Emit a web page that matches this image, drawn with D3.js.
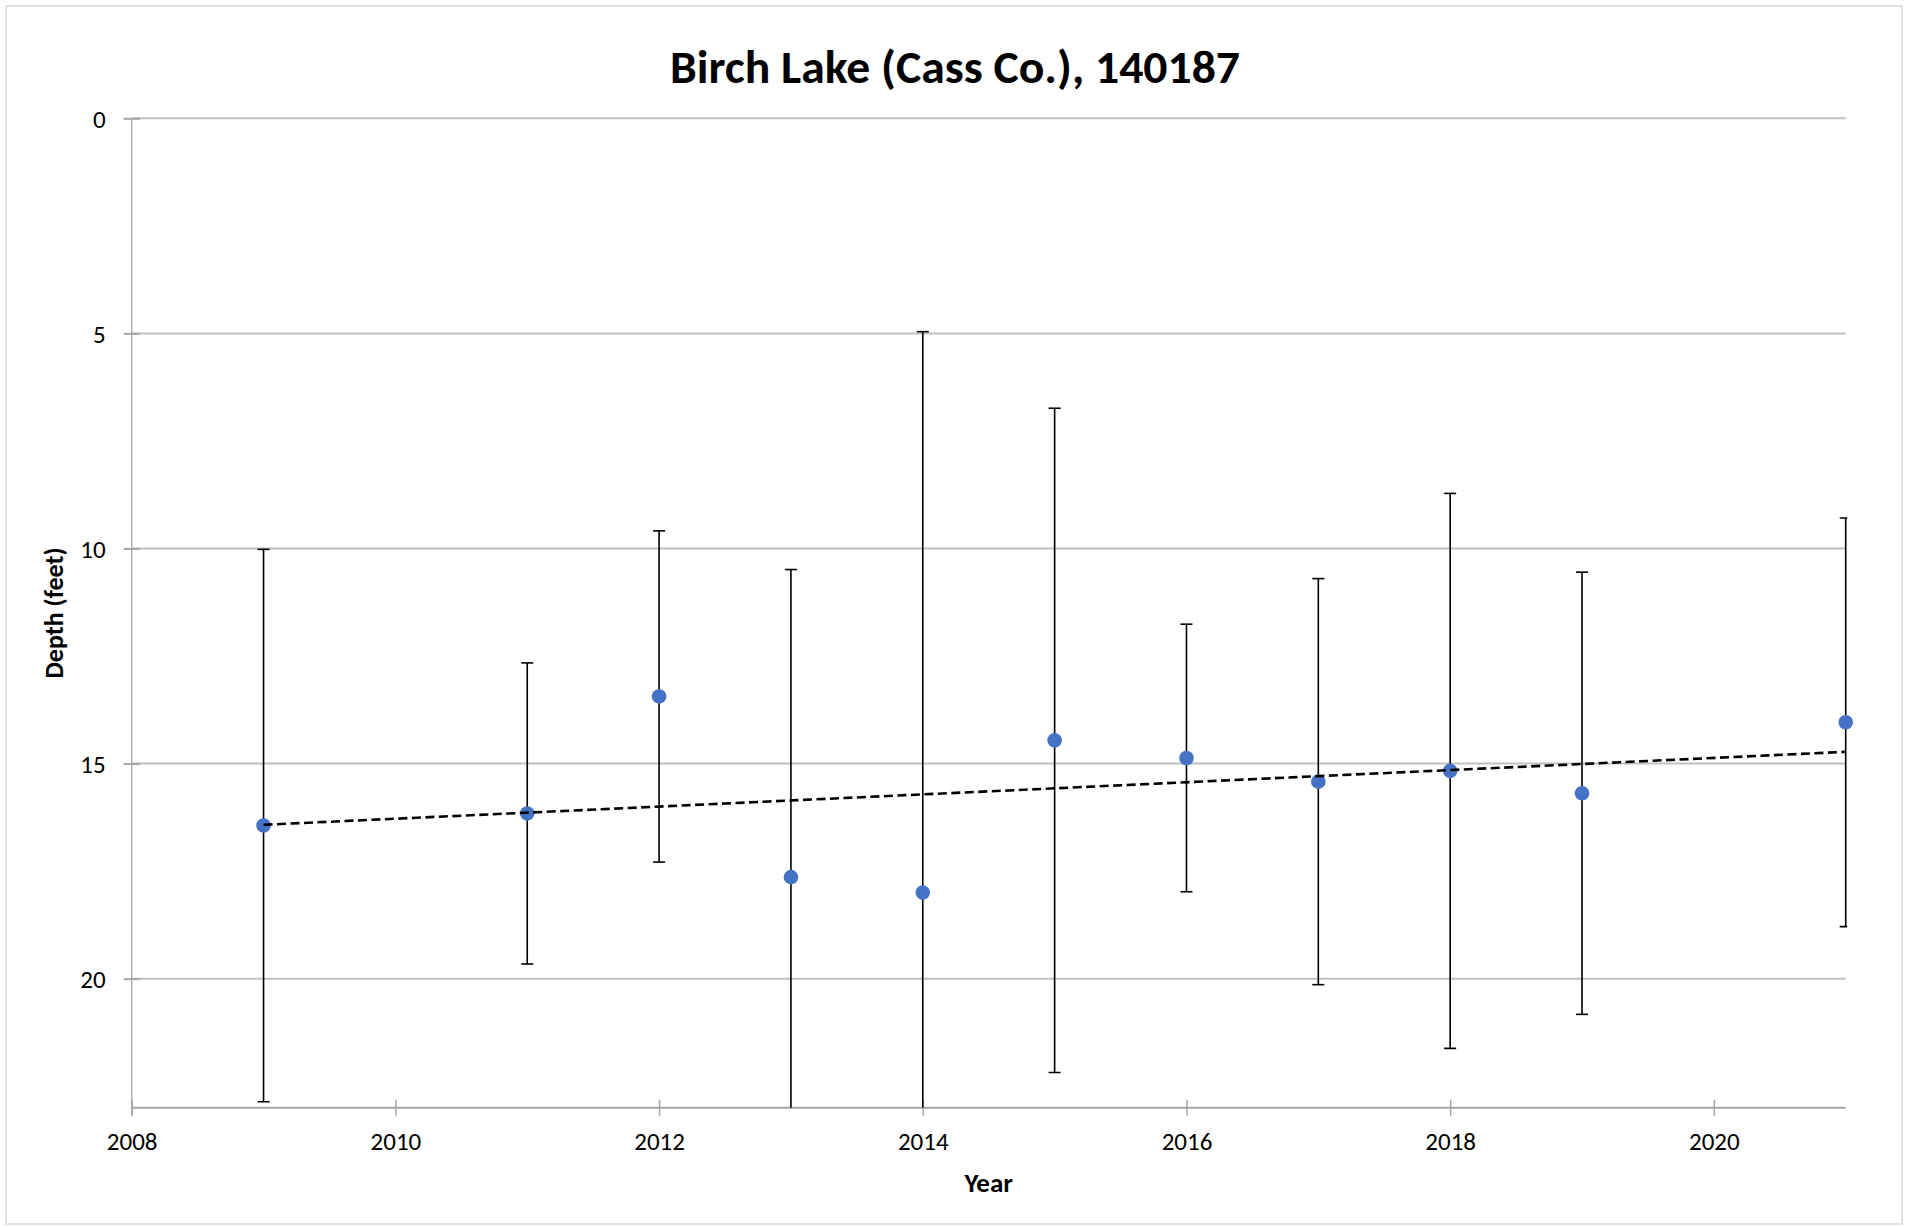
<!DOCTYPE html>
<html>
<head>
<meta charset="utf-8">
<script src="https://cdn.jsdelivr.net/npm/d3@7"></script>
<style>
  body { margin: 0; background: #fff; }
  text { font-family: Carlito, Calibri, Lato, sans-serif; fill: #000; }
</style>
</head>
<body>
<div id="chart"></div>
<script>
const title = "Birch Lake (Cass Co.), 140187"
const years = [2009, 2011, 2012, 2013, 2014, 2015, 2016, 2017, 2018, 2019, 2021]
const depths = [16.44, 16.16, 13.44, 17.64, 18.0, 14.46, 14.87, 15.42, 15.17, 15.69, 14.04]
const errors = [6.42, 3.5, 3.85, 7.15, 13.04, 7.72, 3.11, 4.72, 6.45, 5.14, 4.75]
const xTicks = [2008, 2010, 2012, 2014, 2016, 2018, 2020]
const yTicks = [0, 5, 10, 15, 20]

const width = 1910
const height = 1227
const plot = { left: 131.7, top: 118.3, right: 1845.7, bottom: 1107.7 }

const x = d3.scaleLinear().domain([2008, 2021]).range([plot.left, plot.right])
const y = d3.scaleLinear().domain([0, 23]).range([plot.top, plot.bottom])

const data = years.map((yr, i) => ({ year: yr, depth: depths[i], err: errors[i] }))

// least squares trendline, same as excel's linear trend
const mx = d3.mean(years)
const my = d3.mean(depths)
const slope =
  d3.sum(data, (d) => (d.year - mx) * (d.depth - my)) /
  d3.sum(data, (d) => (d.year - mx) ** 2)
const trend = d3.extent(years).map((yr) => ({ year: yr, depth: my + slope * (yr - mx) }))

const svg = d3
  .select("#chart")
  .append("svg")
  .attr("width", width)
  .attr("height", height)

svg
  .append("rect")
  .attr("x", 6)
  .attr("y", 6)
  .attr("width", 1896)
  .attr("height", 1218)
  .attr("fill", "#fff")
  .attr("stroke", "#d9d9d9")
  .attr("stroke-width", 1.5)

svg
  .append("defs")
  .append("clipPath")
  .attr("id", "clip")
  .append("rect")
  .attr("x", plot.left)
  .attr("y", plot.top - 2)
  .attr("width", plot.right - plot.left + 1.5)
  .attr("height", plot.bottom - plot.top + 2)

// gridlines
svg
  .append("g")
  .selectAll("line")
  .data(yTicks)
  .join("line")
  .attr("x1", plot.left)
  .attr("x2", plot.right)
  .attr("y1", (d) => y(d))
  .attr("y2", (d) => y(d))
  .attr("stroke", "#c0c0c0")
  .attr("stroke-width", 2)

// y axis
const yAxis = svg
  .append("g")
  .attr("transform", `translate(${plot.left},0)`)
  .call(d3.axisLeft(y).tickValues(yTicks).tickSize(8).tickPadding(18))
yAxis.select(".domain").remove()
yAxis.selectAll(".tick line").attr("stroke", "#a6a6a6").attr("stroke-width", 2).attr("x2", 8).attr("x1", -8)
yAxis.selectAll(".tick text").attr("font-size", 25).attr("dy", "0.36em").attr("fill", "#000")
svg
  .append("line")
  .attr("x1", plot.left)
  .attr("x2", plot.left)
  .attr("y1", plot.top)
  .attr("y2", plot.bottom + 8)
  .attr("stroke", "#a6a6a6")
  .attr("stroke-width", 1.3)

// x axis
const xAxis = svg
  .append("g")
  .attr("transform", `translate(0,${plot.bottom})`)
  .call(d3.axisBottom(x).tickValues(xTicks).tickFormat(d3.format("d")).tickSize(8).tickPadding(0))
xAxis.select(".domain").attr("stroke", "#a6a6a6").attr("stroke-width", 2).attr("d", `M${plot.left},0H${plot.right}`)
xAxis.selectAll(".tick line").attr("stroke", "#a6a6a6").attr("stroke-width", 1.5).attr("y1", -8)
xAxis.selectAll(".tick text").attr("font-size", 25).attr("dy", null).attr("y", 42.5).attr("fill", "#000")

const marks = svg.append("g").attr("clip-path", "url(#clip)")

// error bars
const bars = marks
  .selectAll("g.err")
  .data(data)
  .join("g")
  .attr("class", "err")
  .attr("stroke", "#000")
  .attr("stroke-width", 1.6)
bars
  .append("line")
  .attr("x1", (d) => x(d.year))
  .attr("x2", (d) => x(d.year))
  .attr("y1", (d) => y(d.depth - d.err))
  .attr("y2", (d) => y(d.depth + d.err))
bars
  .selectAll("line.cap")
  .data((d) => [
    { year: d.year, v: d.depth - d.err },
    { year: d.year, v: d.depth + d.err },
  ])
  .join("line")
  .attr("class", "cap")
  .attr("x1", (d) => x(d.year) - 6)
  .attr("x2", (d) => x(d.year) + 6)
  .attr("y1", (d) => y(d.v))
  .attr("y2", (d) => y(d.v))

// points
svg
  .append("g")
  .selectAll("circle")
  .data(data)
  .join("circle")
  .attr("cx", (d) => x(d.year))
  .attr("cy", (d) => y(d.depth))
  .attr("r", 7.3)
  .attr("fill", "#4472c4")

// trendline
svg
  .append("path")
  .datum(trend)
  .attr("fill", "none")
  .attr("stroke", "#000")
  .attr("stroke-width", 2.6)
  .attr("stroke-dasharray", "9,4.5")
  .attr(
    "d",
    d3
      .line()
      .x((d) => x(d.year))
      .y((d) => y(d.depth))
  )

// titles
svg
  .append("text")
  .attr("x", width / 2)
  .attr("y", 83)
  .attr("text-anchor", "middle")
  .attr("font-size", 46)
  .attr("font-weight", "bold")
  .attr("textLength", 570)
  .attr("lengthAdjust", "spacingAndGlyphs")
  .text(title)

svg
  .append("text")
  .attr("x", (plot.left + plot.right) / 2)
  .attr("y", 1192)
  .attr("text-anchor", "middle")
  .attr("font-size", 27)
  .attr("font-weight", "bold")
  .text("Year")

svg
  .append("text")
  .attr("transform", `translate(63,${(plot.top + plot.bottom) / 2}) rotate(-90)`)
  .attr("text-anchor", "middle")
  .attr("font-size", 26)
  .attr("font-weight", "bold")
  .text("Depth (feet)")
</script>
</body>
</html>
